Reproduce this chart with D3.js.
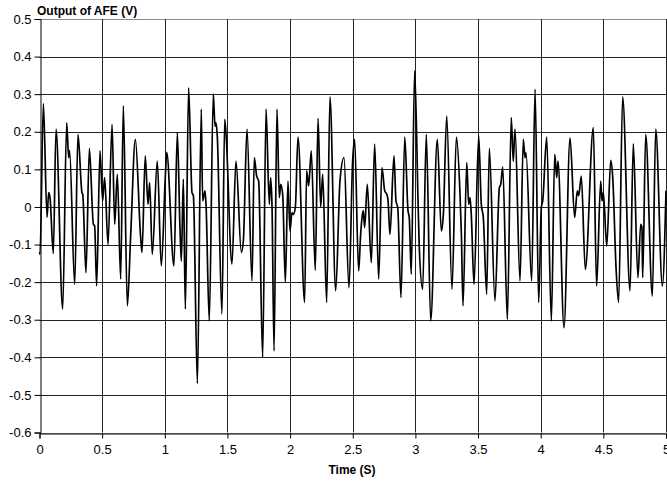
<!DOCTYPE html>
<html>
<head>
<meta charset="utf-8">
<script src="https://cdn.jsdelivr.net/npm/d3@7"></script>
<style>
  html, body { margin: 0; padding: 0; background: #fff; }
  svg { display: block; }
  text { font-family: "Liberation Sans", Arial, sans-serif; fill: #000; }
</style>
</head>
<body>
<svg id="chart" width="667" height="481"></svg>
<script>
// ---- data ----
const timeS = [
  0.000, 0.004, 0.031, 0.060, 0.073, 0.084, 0.110, 0.132, 0.185, 0.217, 0.233, 0.240, 0.281, 0.307, 0.339, 0.345, 0.371, 0.398, 0.430, 0.440, 0.456, 0.483,
  0.504, 0.520, 0.547, 0.579, 0.600, 0.621, 0.648, 0.669, 0.701, 0.728, 0.765, 0.807, 0.818, 0.844, 0.866, 0.879, 0.900, 0.940, 0.972,
  1.005, 1.015, 1.073, 1.100, 1.121, 1.132, 1.148, 1.164, 1.190, 1.217, 1.228, 1.260, 1.291, 1.302, 1.321, 1.329, 1.355, 1.387, 1.401, 1.409, 1.419, 1.456, 1.478,
  1.488, 1.536, 1.568, 1.611, 1.627, 1.656, 1.696, 1.714, 1.733, 1.749, 1.781, 1.808, 1.834, 1.845, 1.856, 1.872, 1.895, 1.914, 1.925, 1.941, 1.962,
  1.983, 1.999, 2.015, 2.026, 2.042, 2.063, 2.116, 2.132, 2.148, 2.169, 2.201, 2.223, 2.244, 2.260, 2.292, 2.318, 2.364, 2.398, 2.430, 2.470,
  2.499, 2.515, 2.547, 2.563, 2.574, 2.584, 2.595, 2.616, 2.648, 2.675, 2.707, 2.733, 2.755, 2.771, 2.781, 2.797, 2.829, 2.845, 2.859, 2.885, 2.915, 2.941, 2.951, 2.967,
  2.994, 3.021, 3.031, 3.058, 3.087, 3.122, 3.175, 3.207, 3.223, 3.250, 3.292, 3.327, 3.356, 3.367, 3.380, 3.410, 3.425, 3.436, 3.446, 3.468,
  3.505, 3.526, 3.542, 3.569, 3.590, 3.635, 3.670, 3.681, 3.697, 3.734, 3.765, 3.781, 3.795, 3.835, 3.861, 3.875, 3.883, 3.928, 3.955,
  3.984, 4.005, 4.016, 4.048, 4.085, 4.112, 4.128, 4.138, 4.186, 4.234, 4.271, 4.292, 4.303, 4.324, 4.356, 4.420, 4.446,
  4.479, 4.489, 4.500, 4.527, 4.559, 4.575, 4.601, 4.622, 4.654, 4.713, 4.739, 4.776, 4.798, 4.808, 4.814, 4.838, 4.891, 4.918, 4.971, 5.000
];
const voltsV = [
  -0.120, -0.126, 0.275, -0.028, 0.038, 0.025, -0.124, 0.207, -0.272, 0.224, 0.131, 0.150, -0.206, 0.193, 0.038, 0.034, -0.175, 0.156, -0.046, -0.050, -0.210, 0.149,
  0.016, 0.078, -0.100, 0.220, -0.046, 0.087, -0.192, 0.269, -0.263, -0.073, 0.180, -0.080, -0.121, 0.136, 0.007, 0.065, -0.126, 0.122, -0.157,
  0.087, 0.145, -0.157, 0.198, -0.055, -0.144, 0.074, -0.272, 0.317, 0.038, 0.030, -0.470, 0.260, 0.016, 0.043, 0.007, -0.303, 0.300, 0.215, 0.224, 0.188, -0.285, 0.233,
  0.198, -0.152, 0.122, -0.121, -0.090, 0.207, -0.197, 0.131, 0.082, 0.069, -0.400, 0.260, 0.007, 0.078, -0.002, -0.383, 0.260, 0.025, 0.060, 0.033, -0.200,
  0.069, -0.064, -0.015, -0.020, 0.000, 0.186, -0.254, 0.096, 0.056, 0.149, -0.168, 0.236, 0.000, 0.087, -0.254, 0.293, -0.223, 0.069, 0.131, -0.215,
  0.122, 0.180, -0.170, -0.073, -0.028, -0.010, -0.055, 0.060, -0.148, 0.167, -0.192, 0.105, 0.043, 0.034, 0.020, -0.073, 0.136, 0.016, -0.002, -0.241, 0.186, -0.010, -0.028, -0.179,
  0.362, 0.016, -0.108, -0.219, 0.193, -0.303, 0.180, -0.064, -0.020, 0.242, -0.219, 0.186, 0.034, -0.073, -0.263, 0.118, 0.007, 0.025, -0.020, -0.206,
  0.189, 0.007, -0.028, -0.232, 0.156, -0.250, 0.051, 0.060, 0.106, -0.299, 0.238, 0.122, 0.207, -0.197, 0.180, 0.131, 0.144, -0.197, 0.313,
  -0.254, -0.002, 0.016, 0.186, -0.303, 0.140, 0.078, 0.122, -0.321, 0.184, -0.028, 0.043, 0.030, 0.082, -0.166, 0.211, -0.210,
  0.069, 0.016, 0.038, -0.104, 0.124, 0.078, -0.160, -0.254, 0.293, -0.223, 0.168, -0.188, -0.046, -0.055, -0.188, 0.193, -0.237, 0.207, -0.210, 0.043
];
const xTicks = [0, 0.5, 1, 1.5, 2, 2.5, 3, 3.5, 4, 4.5, 5];
const yTicks = [-0.6, -0.5, -0.4, -0.3, -0.2, -0.1, 0, 0.1, 0.2, 0.3, 0.4, 0.5];
const yTitle = "Output of AFE (V)";
const xTitle = "Time (S)";

// ---- drawing ----
const svg = d3.select("#chart");
const plotL = 39.5, plotR = 666, plotT = 19, plotB = 432.5;

const x = d3.scaleLinear().domain([0, 5]).range([plotL, plotR]);
const y = d3.scaleLinear().domain([-0.6, 0.5]).range([plotB, plotT]);

// horizontal grid lines
svg.append("g")
  .selectAll("line")
  .data(yTicks)
  .join("line")
  .attr("x1", plotL).attr("x2", plotR)
  .attr("y1", d => Math.round(y(d)) + 0.5).attr("y2", d => Math.round(y(d)) + 0.5)
  .attr("stroke", d => (d === 0.5 || d === -0.6) ? "#8c8c8c" : "#222")
  .attr("stroke-width", 1);

// vertical grid lines
svg.append("g")
  .selectAll("line")
  .data(xTicks.slice(1))
  .join("line")
  .attr("x1", d => Math.round(x(d)) + 0.5).attr("x2", d => Math.round(x(d)) + 0.5)
  .attr("y1", plotT).attr("y2", plotB)
  .attr("stroke", "#222")
  .attr("stroke-width", 1);

// y axis
const yAxis = d3.axisLeft(y).tickValues(yTicks).tickSize(6).tickPadding(3)
  .tickFormat(d => String(+d.toFixed(1)));
const gy = svg.append("g")
  .attr("transform", `translate(${Math.round(plotL) + 0.5},0)`)
  .call(yAxis);
gy.select(".domain").attr("stroke", "#000");
gy.selectAll(".tick line").attr("stroke", "#000");
gy.selectAll(".tick text")
  .style("font-family", '"Liberation Sans", Arial, sans-serif')
  .style("font-size", "13px").attr("fill", "#000");

// x axis
const xAxis = d3.axisBottom(x).tickValues(xTicks).tickSize(5).tickPadding(6)
  .tickFormat(d => String(d));
const gx = svg.append("g")
  .attr("transform", `translate(0,${Math.round(plotB) + 0.5})`)
  .call(xAxis);
gx.select(".domain").attr("stroke", "#000");
gx.selectAll(".tick line").attr("stroke", "#000");
gx.selectAll(".tick text")
  .style("font-family", '"Liberation Sans", Arial, sans-serif')
  .style("font-size", "13px").attr("fill", "#000");

// signal line
const pts = timeS.map((t, i) => [t, voltsV[i]]);
const line = d3.line()
  .x(d => x(d[0]))
  .y(d => y(d[1]))
  .curve(d3.curveMonotoneX);
svg.append("path")
  .datum(pts)
  .attr("d", line)
  .attr("fill", "none")
  .attr("stroke", "#000")
  .attr("stroke-width", 1.7)
  .attr("stroke-linejoin", "round");

// titles
svg.append("text")
  .attr("x", 37).attr("y", 15)
  .style("font-weight", "bold").style("font-size", "12px")
  .text(yTitle);

svg.append("text")
  .attr("x", 352).attr("y", 474)
  .attr("text-anchor", "middle")
  .style("font-weight", "bold").style("font-size", "12px")
  .text(xTitle);
</script>
</body>
</html>
